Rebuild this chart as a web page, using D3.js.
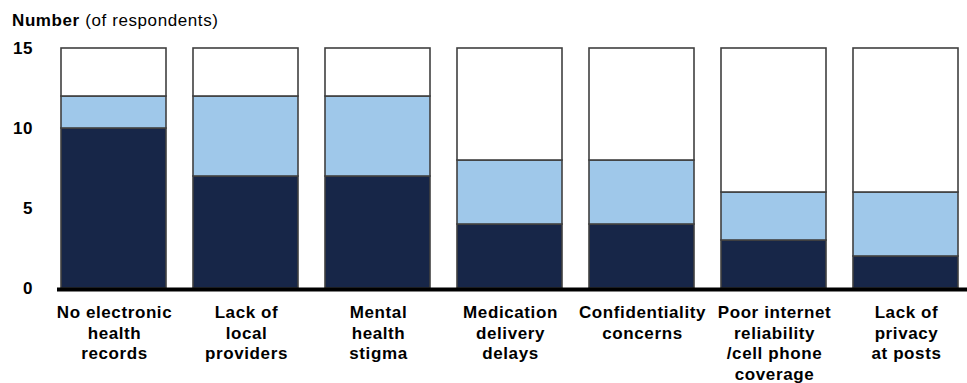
<!DOCTYPE html>
<html><head><meta charset="utf-8">
<script src="https://cdn.jsdelivr.net/npm/d3@7/dist/d3.min.js"></script>
<style>
html,body{margin:0;padding:0;background:#fff;}
svg{display:block;font-family:"Liberation Sans",Arial,sans-serif;}
</style></head>
<body>
<svg id="chart" width="967" height="383"></svg>
<script>
const categories = [
  ["No electronic","health","records"],
  ["Lack of","local","providers"],
  ["Mental","health","stigma"],
  ["Medication","delivery","delays"],
  ["Confidentiality","concerns"],
  ["Poor internet","reliability","/cell phone","coverage"],
  ["Lack of","privacy","at posts"]
];
const seriesDark  = [10, 7, 7, 4, 4, 3, 2];
const seriesLight = [2, 5, 5, 4, 4, 3, 4];
const seriesWhite = [3, 3, 3, 7, 7, 9, 9];
const yTicks = [0, 5, 10, 15];
const colors = ["#172648", "#9fc8ea", "#ffffff"];

const svg = d3.select("#chart");
const keys = categories.map((c,i)=>"c"+i);
const x = d3.scaleBand().domain(keys).range([47.5, 971.5]).paddingInner(27/132).paddingOuter(13.5/132);
const y = d3.scaleLinear().domain([0, 15]).range([288, 48]);

const rows = keys.map((k,i)=>({key:k, s0:seriesDark[i], s1:seriesLight[i], s2:seriesWhite[i]}));
const stack = d3.stack().keys(["s0","s1","s2"])(rows);

svg.append("g").selectAll("g").data(stack).join("g")
  .attr("fill", (d,i)=>colors[i])
  .selectAll("rect").data(d=>d).join("rect")
  .attr("x", d=>x(d.data.key))
  .attr("width", x.bandwidth())
  .attr("y", d=>y(d[1]))
  .attr("height", d=>y(d[0])-y(d[1]))
  .attr("stroke", "#404040")
  .attr("stroke-width", 1.6);

// baseline
svg.append("line").attr("x1", 57).attr("x2", 967).attr("y1", y(0)+1.5).attr("y2", y(0)+1.5)
  .attr("stroke", "#000").attr("stroke-width", 4);

// y axis labels
const yAxis = d3.axisLeft(y).tickValues(yTicks).tickSize(0).tickPadding(0);
const ga = svg.append("g").attr("transform", "translate(33,0)").call(yAxis);
ga.select(".domain").remove();
ga.selectAll("text").attr("font-size", 17).attr("font-weight", "bold").attr("fill", "#000")
  .attr("font-family", "Liberation Sans, Arial, sans-serif").attr("letter-spacing", 0.6);

// x labels
const xl = svg.append("g");
categories.forEach((lines, i) => {
  const cx = x(keys[i]) + x.bandwidth()/2 + 1;
  const t = xl.append("text").attr("x", cx).attr("y", 318)
    .attr("text-anchor", "middle").attr("font-size", 17).attr("font-weight", "bold")
    .attr("letter-spacing", 0.6).attr("fill", "#000");
  lines.forEach((ln, j) => {
    t.append("tspan").attr("x", cx).attr("y", 318 + j*20.5).text(ln);
  });
});

// title
const tt = svg.append("text").attr("x", 12).attr("y", 26).attr("font-size", 17).attr("letter-spacing", 0.6).attr("fill", "#000");
tt.append("tspan").attr("font-weight", "bold").text("Number");
tt.append("tspan").text(" (of respondents)");
</script>
</body></html>
